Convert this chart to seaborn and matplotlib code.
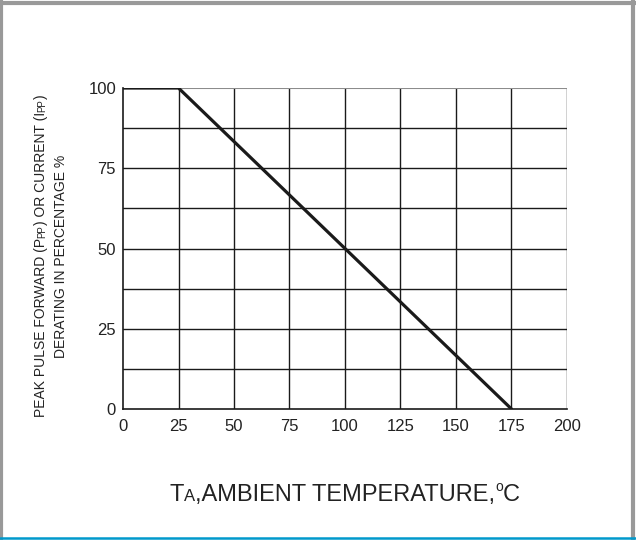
import matplotlib
matplotlib.use("Agg")
import matplotlib.pyplot as plt
import seaborn as sns
import pandas as pd
from matplotlib.lines import Line2D

sns.set_theme(style="white")
plt.rcParams['font.family'] = ['Liberation Sans', 'DejaVu Sans']

# derating curve
temps = [0, 25, 175]
derating = [100, 100, 0]
x_ticks = [0, 25, 50, 75, 100, 125, 150, 175, 200]
y_ticks = [0, 25, 50, 75, 100]

df = pd.DataFrame({"temp": temps, "derating": derating})

fig = plt.figure(figsize=(6.36, 5.4), dpi=100)
ax = fig.add_axes([0.1934, 0.2426, 0.6981, 0.5944])

# grid
for xv in x_ticks[1:]:
    ax.axvline(xv, color="#1a1a1a", lw=1.0, zorder=1)
for yv in [12.5 * i for i in range(1, 8)]:
    ax.axhline(yv, color="#1a1a1a", lw=1.0, zorder=1)
ax.axhline(100, color="#8c8c8c", lw=1.5, zorder=1)

sns.lineplot(data=df, x="temp", y="derating", color="#1a1a1a", lw=2.3,
             ax=ax, zorder=3)

ax.set_xlim(0, 200)
ax.set_ylim(0, 100)
ax.set_xticks(x_ticks)
ax.set_yticks(y_ticks)
ax.tick_params(axis="both", length=0, labelsize=12, colors="#222222", pad=5)
ax.tick_params(axis="x", pad=7)
for s in ["left", "bottom"]:
    ax.spines[s].set_color("#1a1a1a")
    ax.spines[s].set_linewidth(1.2)
ax.spines["top"].set_visible(False)
ax.spines["right"].set_visible(False)
ax.set_xlabel("")
ax.set_ylabel("")

renderer = fig.canvas.get_renderer()


def rich_text(cx, cy, pieces, vertical=False):
    # pieces: (text, fontsize, rise in px) laid out on one baseline, centred on (cx, cy) px
    arts = []
    for txt, size, rise in pieces:
        t = fig.text(0, 0, txt, fontsize=size, color="#222222",
                     ha="left", va="baseline", rotation=90 if vertical else 0,
                     rotation_mode="anchor", transform=None)
        arts.append((t, rise))
    lengths = []
    for t, _ in arts:
        bb = t.get_window_extent(renderer)
        lengths.append(bb.height if vertical else bb.width)
    pos = -sum(lengths) / 2
    for (t, rise), ln in zip(arts, lengths):
        if vertical:
            t.set_position((cx - rise, cy + pos))
        else:
            t.set_position((cx + pos, cy + rise))
        pos += ln


H = 540
rich_text(345, H - 501, [("T", 17, 0), ("A", 12, 0), (",AMBIENT TEMPERATURE,", 17, 0),
                         ("o", 10, 10), ("C", 17, 0)])
rich_text(45, H - 256, [("PEAK PULSE FORWARD (P", 10, 0), ("PP", 7, 0),
                        (") OR CURRENT (I", 10, 0), ("PP", 7, 0), (")", 10, 0)],
          vertical=True)
rich_text(65, H - 256, [("DERATING IN PERCENTAGE %", 10, 0)], vertical=True)

# outer frame
gray = "#999999"
fig.add_artist(Line2D([0.002, 0.002], [0, 1], transform=fig.transFigure, color=gray, lw=3))
fig.add_artist(Line2D([0.995, 0.995], [0, 1], transform=fig.transFigure, color=gray, lw=3))
fig.add_artist(Line2D([0, 1], [0.995, 0.995], transform=fig.transFigure, color=gray, lw=3))
fig.add_artist(Line2D([0, 1], [0.0035, 0.0035], transform=fig.transFigure, color="#0099cc", lw=1.8))

fig.savefig("out.png", dpi=100)
